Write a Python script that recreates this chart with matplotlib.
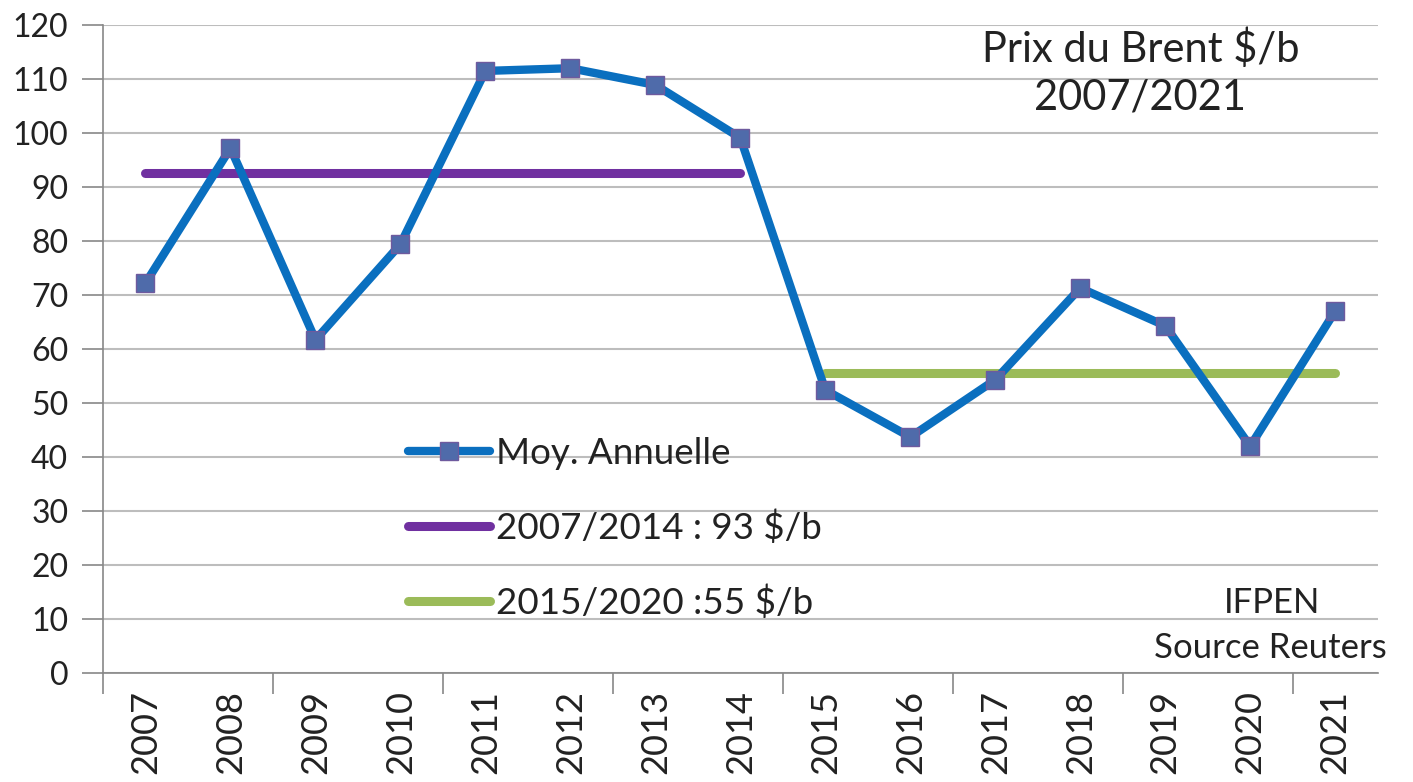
import matplotlib
matplotlib.use("Agg")
import matplotlib.pyplot as plt
from matplotlib.ticker import MultipleLocator, FixedLocator

years = ["2007", "2008", "2009", "2010", "2011", "2012", "2013", "2014",
         "2015", "2016", "2017", "2018", "2019", "2020", "2021"]
brent = [72.2, 97.2, 61.7, 79.4, 111.5, 112.0, 108.9, 99.1,
         52.4, 43.7, 54.3, 71.3, 64.3, 42.0, 67.0]
avg1_years = years[0:8]
avg1_value = 92.6
avg2_years = years[8:15]
avg2_value = 55.6
labels = ["Moy. Annuelle", "2007/2014 : 93 $/b", "2015/2020 :55 $/b"]

plt.rcParams['font.family'] = ['Lato', 'DejaVu Sans']

fig = plt.figure(figsize=(14.13, 7.82), dpi=100)
ax = fig.add_axes([0.0729, 0.1394, 0.9021, 0.8286])

x = list(range(len(years)))
x1 = [years.index(y) for y in avg1_years]
x2 = [years.index(y) for y in avg2_years]

ax.plot(x1, [avg1_value] * len(x1), color="#7030A0", lw=6.5,
        solid_capstyle="round", label=labels[1], zorder=3)
ax.plot(x2, [avg2_value] * len(x2), color="#9BBB59", lw=6.5,
        solid_capstyle="round", label=labels[2], zorder=3)
ax.plot(x, brent, color="#0A6FBF", lw=6, marker="s", markersize=13,
        markerfacecolor="#4F6BAA", markeredgecolor="#6E5A9E", markeredgewidth=1,
        solid_joinstyle="round", solid_capstyle="round", label=labels[0], zorder=4)

ax.set_xlim(-0.5, len(years) - 0.5)
ax.set_ylim(0, 120)
ax.yaxis.set_major_locator(MultipleLocator(10))
ax.set_xticks(x)
ax.set_xticklabels(years, rotation=90, fontsize=26, color="#222222")
ax.tick_params(axis="x", length=0, pad=12)
ax.xaxis.set_minor_locator(FixedLocator([i - 0.5 for i in range(0, len(years) + 1, 2)]))
ax.tick_params(axis="x", which="minor", length=15, color="#888888", width=1.2)
ax.tick_params(axis="y", labelsize=23, labelcolor="#222222", length=15,
               color="#888888", width=1.2, pad=10)

ax.grid(axis="y", color="#BDBDBD", lw=1.5)
ax.set_axisbelow(True)
for s in ["top", "right"]:
    ax.spines[s].set_visible(False)
for s in ["left", "bottom"]:
    ax.spines[s].set_color("#888888")
    ax.spines[s].set_linewidth(1.2)

h, l = ax.get_legend_handles_labels()
order = [2, 0, 1]
leg = ax.legend([h[i] for i in order], [l[i] for i in order],
                loc="upper left", bbox_to_anchor=(0.239, 0.364), frameon=False,
                fontsize=26.5, labelspacing=1.1, handlelength=2.25, handletextpad=0.15,
                borderaxespad=0, borderpad=0)
for t in leg.get_texts():
    t.set_color("#222222")

fig.text(0.807, 0.907, "Prix du Brent $/b\n2007/2021", ha="center", va="center",
         fontsize=30, color="#222222", linespacing=1.3)
fig.text(0.9, 0.229, "IFPEN", ha="center", va="center", fontsize=25, color="#222222")
fig.text(0.899, 0.171, "Source Reuters", ha="center", va="center", fontsize=25, color="#222222")

fig.savefig("out.png", dpi=100)
